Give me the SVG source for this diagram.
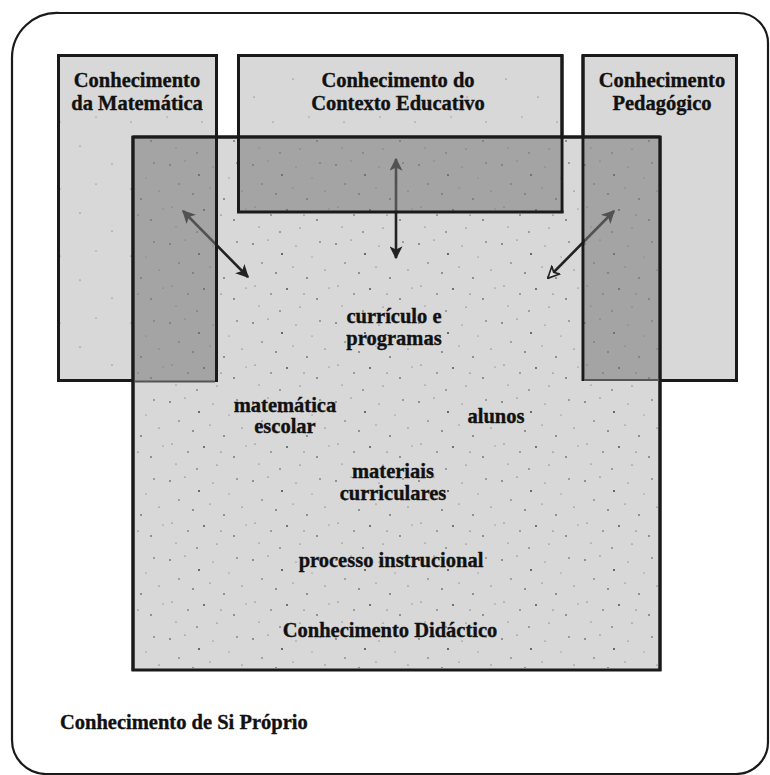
<svg xmlns="http://www.w3.org/2000/svg" width="770" height="775" viewBox="0 0 770 775">
  <style>
    .box { fill: #d8d8d8; stroke: #1a1a1a; stroke-width: 3; }
    .lbl { font-family: "Liberation Serif", "Times New Roman", serif; font-weight: bold; font-size: 20.5px; fill: #111; stroke: #111; stroke-width: 0.35; text-anchor: middle; }
    .conn { stroke: #222; stroke-width: 2.6; fill: none; }
    .ovl { fill: #7a7a7a; fill-opacity: 0.55; stroke: none; }
    .edge { stroke: #1a1a1a; stroke-width: 3; }
  </style>
  <defs>
    <pattern id="speck" x="0" y="0" width="83" height="79" patternUnits="userSpaceOnUse">
      <circle cx="4" cy="7" r="0.8" fill="#333"/>
      <circle cx="19" cy="3" r="0.6" fill="#444"/>
      <circle cx="33" cy="17" r="0.9" fill="#333"/>
      <circle cx="47" cy="9" r="0.6" fill="#555"/>
      <circle cx="13" cy="26" r="0.7" fill="#444"/>
      <circle cx="27" cy="36" r="0.8" fill="#333"/>
      <circle cx="44" cy="30" r="0.6" fill="#555"/>
      <circle cx="58" cy="41" r="0.8" fill="#333"/>
      <circle cx="6" cy="49" r="0.6" fill="#444"/>
      <circle cx="22" cy="57" r="0.7" fill="#333"/>
      <circle cx="38" cy="52" r="0.9" fill="#444"/>
      <circle cx="63" cy="20" r="0.5" fill="#555"/>
      <circle cx="71" cy="5" r="0.7" fill="#333"/>
      <circle cx="76" cy="33" r="0.6" fill="#444"/>
      <circle cx="68" cy="62" r="0.8" fill="#333"/>
      <circle cx="51" cy="70" r="0.6" fill="#444"/>
      <circle cx="31" cy="74" r="0.7" fill="#333"/>
      <circle cx="10" cy="69" r="0.6" fill="#555"/>
      <circle cx="80" cy="51" r="0.5" fill="#444"/>
      <circle cx="55" cy="57" r="0.6" fill="#333"/>
    </pattern>
    <pattern id="speck2" x="0" y="0" width="71" height="67" patternUnits="userSpaceOnUse">
      <circle cx="9" cy="12" r="0.6" fill="#555"/>
      <circle cx="41" cy="30" r="0.6" fill="#555"/>
      <circle cx="60" cy="55" r="0.6" fill="#555"/>
      <circle cx="25" cy="50" r="0.5" fill="#555"/>
    </pattern>
    <marker id="ah" viewBox="0 0 10 10" refX="9" refY="5" markerWidth="5" markerHeight="5" orient="auto-start-reverse" markerUnits="strokeWidth">
      <path d="M0,0 L10,5 L0,10 L2.5,5 Z" fill="#222"/>
    </marker>
    <marker id="ahOpen" viewBox="0 0 10 10" refX="9" refY="5" markerWidth="5" markerHeight="5" orient="auto" markerUnits="strokeWidth">
      <path d="M0.5,0.8 L9.3,5 L0.5,9.2 L2.8,5 Z" fill="#e6e6e6" stroke="#222" stroke-width="1.3"/>
    </marker>
  </defs>

  <rect width="770" height="775" fill="#ffffff"/>

  <g id="frame">
    <path d="M 60,13 H 738 A 30,30 0 0 1 768,43 V 742 A 32,32 0 0 1 736,774 H 46 A 34,34 0 0 1 12,740 V 58 A 45,45 0 0 1 60,13 Z" fill="none" stroke="#1a1a1a" stroke-width="2.2"/>
  </g>

  <g id="matematica">
    <rect class="box" x="58.5" y="55.5" width="158" height="325"/>
    <rect x="60" y="57" width="155" height="322" fill="url(#speck2)"/>
  </g>
  <g id="contexto">
    <rect class="box" x="238.5" y="55.5" width="323.5" height="157"/>
    <rect x="240" y="57" width="320" height="154" fill="url(#speck2)"/>
  </g>
  <g id="pedagogico">
    <rect class="box" x="583" y="55.5" width="153.5" height="325" fill="#d2d2d2"/>
  </g>

  <g id="didactico">
    <rect class="box" x="133" y="137" width="527" height="533" fill="#d9d9d9"/>
    <rect x="135" y="139" width="523" height="529" fill="url(#speck)"/>
  </g>

  <g id="connectors">
    <line class="conn" x1="183" y1="211" x2="248" y2="277" marker-start="url(#ah)" marker-end="url(#ah)"/>
    <line class="conn" x1="396" y1="159" x2="396" y2="258" marker-start="url(#ah)" marker-end="url(#ah)"/>
    <line class="conn" x1="614" y1="211" x2="548" y2="278" marker-start="url(#ah)" marker-end="url(#ahOpen)"/>
  </g>

  <g id="overlaps">
    <rect class="ovl" x="134.5" y="138.5" width="80.5" height="243"/>
    <rect class="ovl" x="240" y="138.5" width="320.5" height="72.5"/>
    <rect class="ovl" x="584.5" y="138.5" width="74" height="241"/>
    <line class="edge" x1="216.5" y1="55" x2="216.5" y2="382"/>
    <line class="edge" x1="583" y1="55" x2="583" y2="381"/>
    <line class="edge" x1="238.5" y1="55" x2="238.5" y2="213"/>
    <line class="edge" x1="562" y1="55" x2="562" y2="213"/>
    <line class="edge" x1="237" y1="212" x2="563.5" y2="212"/>
    <line class="edge" x1="133" y1="137" x2="660" y2="137"/>
    <line class="edge" x1="133" y1="136" x2="133" y2="671"/>
    <line class="edge" x1="660" y1="136" x2="660" y2="671"/>
    <line x1="135" y1="381.5" x2="215" y2="381.5" stroke="#555" stroke-width="2"/>
    <line x1="584" y1="380" x2="659" y2="380" stroke="#555" stroke-width="2"/>
  </g>

  <g id="labels">
    <text class="lbl" x="137" y="87">Conhecimento</text>
    <text class="lbl" x="137" y="110">da Matemática</text>
    <text class="lbl" x="398" y="87">Conhecimento do</text>
    <text class="lbl" x="398" y="110">Contexto Educativo</text>
    <text class="lbl" x="662" y="87">Conhecimento</text>
    <text class="lbl" x="662" y="110">Pedagógico</text>
    <text class="lbl" x="394" y="323">currículo e</text>
    <text class="lbl" x="394" y="345">programas</text>
    <text class="lbl" x="285" y="412">matemática</text>
    <text class="lbl" x="285" y="433">escolar</text>
    <text class="lbl" x="496" y="423">alunos</text>
    <text class="lbl" x="393" y="478">materiais</text>
    <text class="lbl" x="393" y="500">curriculares</text>
    <text class="lbl" x="391" y="567">processo instrucional</text>
    <text class="lbl" x="390" y="637">Conhecimento Didáctico</text>
    <text class="lbl" x="60" y="729" style="text-anchor:start">Conhecimento de Si Próprio</text>
  </g>
</svg>
